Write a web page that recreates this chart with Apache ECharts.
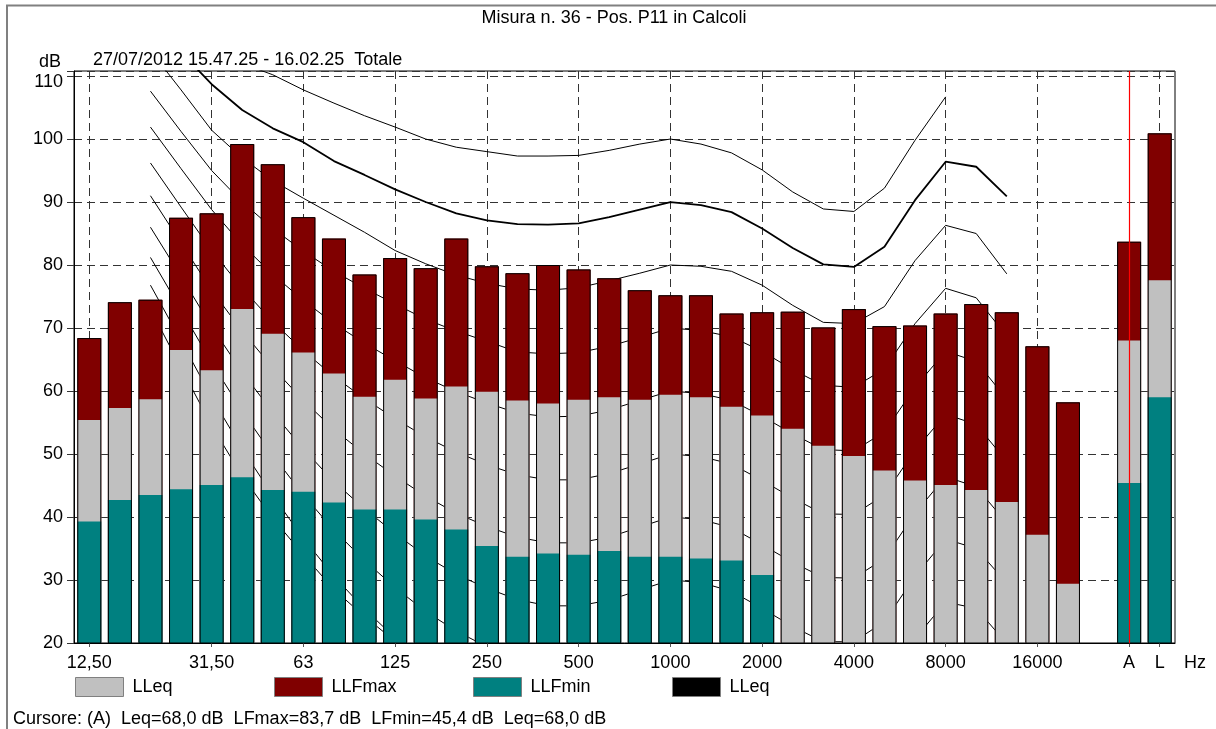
<!DOCTYPE html>
<html><head><meta charset="utf-8">
<script src="https://cdn.jsdelivr.net/npm/echarts@6/dist/echarts.min.js"></script>
<style>html,body{margin:0;padding:0;background:#fff}#c{width:1216px;height:729px}</style>
</head><body><div id="c"></div>
<script>
// Bands (1/3 octave) + gap + A + L
const categories = ["12,50","16","20","25","31,50","40","50","63","80","100","125","160","200","250","315","400","500","630","800","1000","1250","1600","2000","2500","3150","4000","5000","6300","8000","10000","12500","16000","20000","","A","L"];
const labeledBands = ["12,50","31,50","63","125","250","500","1000","2000","4000","8000","16000","A","L"];

const LLFmax = [68.4,74.1,74.5,87.5,88.2,99.2,96.0,87.6,84.2,78.5,81.1,79.5,84.2,79.8,78.7,80.0,79.3,77.9,76.0,75.2,75.2,72.3,72.5,72.6,70.1,73.0,70.3,70.4,72.3,73.8,72.5,67.1,58.2,null,83.7,100.9];
const LLeq   = [55.4,57.3,58.7,66.5,63.3,73.0,69.1,66.1,62.8,59.1,61.8,58.8,60.7,59.9,58.5,58.0,58.6,59.0,58.6,59.4,59.0,57.5,56.1,54.0,51.3,49.7,47.4,45.8,45.1,44.3,42.4,37.2,29.4,null,68.0,77.6];
const LLFmin = [39.3,42.7,43.5,44.4,45.1,46.3,44.3,44.0,42.3,41.2,41.2,39.6,38.0,35.4,33.7,34.2,34.0,34.6,33.7,33.7,33.4,33.1,30.8,null,null,null,null,null,null,null,null,null,null,null,45.4,59.0];
const cursorBand = "A";

// Equal-loudness style reference curves (20 Hz .. 12500 Hz)
const curveBands = ["20","25","31,50","40","50","63","80","100","125","160","200","250","315","400","500","630","800","1000","1250","1600","2000","2500","3150","4000","5000","6300","8000","10000","12500"];
const curve100 = [124.0,120.5,116.5,112.0,110.2,107.8,105.7,103.7,101.9,100.0,98.7,98.0,97.3,97.3,97.4,98.2,99.2,100.0,99.2,97.8,95.1,91.6,88.9,88.5,92.2,99.8,106.7,null,null];
const curve90  = [119.0,113.8,108.7,104.6,101.7,99.5,96.5,94.3,92.0,90.0,88.2,87.1,86.5,86.4,86.6,87.6,88.8,90.0,89.5,88.4,85.8,82.7,80.1,79.7,82.9,90.3,96.4,95.6,90.9];
const curve80  = [114.0,107.8,101.4,97.0,93.4,90.6,87.9,85.2,82.3,80.2,78.4,77.1,76.2,76.0,76.4,77.5,78.7,80.0,79.8,79.0,76.8,73.6,70.9,70.7,73.4,80.7,86.3,85.0,78.6];
const curve70  = [107.6,101.2,95.0,90.0,85.8,82.2,79.0,76.3,73.8,71.4,69.5,67.9,66.2,65.9,66.1,67.1,68.5,70.0,69.6,68.6,66.3,63.4,60.9,60.6,63.5,70.7,76.3,74.8,68.7];
const curve60  = [101.9,95.3,88.8,83.2,78.5,74.4,70.7,67.6,64.8,62.1,59.9,58.1,56.5,55.9,56.0,57.0,58.5,60.0,59.6,58.5,56.0,53.2,50.7,50.5,53.5,60.6,66.3,64.7,58.7];
const curve50  = [96.2,89.2,82.3,76.3,71.0,66.4,62.3,58.8,55.6,52.7,50.3,48.3,46.7,45.9,45.9,46.9,48.4,50.0,49.6,48.4,45.8,43.0,40.5,40.4,43.5,50.6,56.3,54.7,48.8];
const curve40  = [91.0,83.5,76.0,69.5,63.7,58.5,53.9,50.0,46.5,43.3,40.6,38.5,36.8,35.9,35.9,36.8,38.4,40.0,39.6,38.3,35.6,32.8,30.4,30.3,33.4,40.6,46.4,44.8,39.0];
const curve30  = [86.0,78.2,70.2,63.0,56.6,50.8,45.6,41.3,37.4,33.8,30.9,28.7,26.9,25.9,25.9,26.8,28.4,30.0,29.6,28.2,25.5,22.6,20.2,20.2,23.4,30.6,36.5,35.0,29.5];
const curve20  = [81.2,72.9,64.5,56.8,49.8,43.5,37.9,33.1,28.8,25.0,21.9,19.4,17.4,16.0,15.9,16.7,18.3,20.0,19.6,18.1,15.4,12.5,10.0,10.1,13.4,20.7,26.5,25.5,19.9];
const curve10  = [76.8,68.0,59.0,50.8,43.4,36.6,30.6,25.4,20.8,16.7,13.3,10.7,8.5,6.8,5.8,6.7,8.3,10.0,9.6,8.0,5.3,2.4,-0.1,0.0,3.4,11.5,19.0,19.8,14.6];
const curve0   = [73.0,63.7,54.5,46.5,39.8,34.0,28.5,24.2,20.3,16.5,13.5,11.0,8.8,7.0,6.0,5.0,4.4,4.2,3.7,2.6,1.0,-1.2,-3.6,-3.9,-1.1,6.6,15.3,16.4,11.6];

const curves = [curve100, curve90, curve80, curve70, curve60, curve50, curve40, curve30, curve20, curve10, curve0];
const FONT = '"Liberation Sans", Arial, sans-serif';
const isLabeled = (i) => labeledBands.indexOf(categories[i]) >= 0;

const chart = echarts.init(document.getElementById('c'), null, {renderer: 'canvas'});

const lineSeries = curves.map((c, k) => ({
  type: 'line', name: 'curve' + k, z: 1, silent: true, symbol: 'none',
  data: curveBands.map((b, i) => [b, c[i]]),
  lineStyle: {color: '#000', width: k === 1 ? 1.8 : 1},
  clip: true, animation: false
}));

const legendBase = {
  orient: 'horizontal', top: 677, itemWidth: 48, itemHeight: 19, icon: 'rect', padding: 0,
  selectedMode: false,
  itemStyle: {borderColor: '#808080', borderWidth: 1},
  textStyle: {fontSize: 18, fontFamily: FONT, color: '#000', padding: [0, 0, 0, 4]}
};

const option = {
  animation: false,
  backgroundColor: '#fff',
  grid: {left: 74, right: 41, top: 71, bottom: 86, show: true, borderColor: '#000', borderWidth: 1},
  xAxis: {
    type: 'category', data: categories, boundaryGap: true,
    axisLine: {show: true, lineStyle: {color: '#000', width: 1}},
    axisTick: {show: true, alignWithLabel: true, interval: (i) => isLabeled(i), length: 4, lineStyle: {color: '#555'}},
    axisLabel: {interval: (i) => isLabeled(i), fontSize: 18, fontFamily: FONT, color: '#000', margin: 11},
    splitLine: {show: true, alignWithLabel: true, interval: (i) => isLabeled(i), lineStyle: {color: '#333', type: [8, 5], width: 1}}
  },
  yAxis: {
    type: 'value', min: 20, max: 110.8, interval: 10,
    axisLine: {show: true, lineStyle: {color: '#000'}},
    axisTick: {show: true, length: 7, lineStyle: {color: '#333'}},
    axisLabel: {fontSize: 18, fontFamily: FONT, color: '#000', margin: 11,
      formatter: (v) => (Math.abs(v % 10) < 1e-6 ? (v === 110 ? '{top|110}' : String(v)) : ''),
      rich: {top: {fontSize: 18, fontFamily: FONT, color: '#000', padding: [11, 0, 0, 0]}}},
    splitLine: {show: true, lineStyle: {color: '#333', type: [8, 5], width: 1}}
  },
  legend: [
    Object.assign({}, legendBase, {left: 75, data: ['LLeq']}),
    Object.assign({}, legendBase, {left: 274, data: ['LLFmax']}),
    Object.assign({}, legendBase, {left: 473, data: ['LLFmin']}),
    Object.assign({}, legendBase, {left: 672, data: ['LLeq_nero'], formatter: () => 'LLeq'})
  ],
  graphic: [
    {type: 'line', shape: {x1: 7, y1: 5, x2: 7, y2: 729}, style: {stroke: '#808080', lineWidth: 2}, silent: true},
    {type: 'line', shape: {x1: 6, y1: 5.5, x2: 1216, y2: 5.5}, style: {stroke: '#808080', lineWidth: 2}, silent: true},
    {type: 'text', x: 614, y: 18, style: {text: 'Misura n. 36 - Pos. P11 in Calcoli', font: '18px ' + FONT, fill: '#000', textAlign: 'center', textVerticalAlign: 'middle'}},
    {type: 'text', x: 93, y: 60, style: {text: '27/07/2012 15.47.25 - 16.02.25  Totale', font: '18px ' + FONT, fill: '#000', textAlign: 'left', textVerticalAlign: 'middle'}},
    {type: 'text', x: 39, y: 62, style: {text: 'dB', font: '18px ' + FONT, fill: '#000', textAlign: 'left', textVerticalAlign: 'middle'}},
    {type: 'text', x: 1184, y: 663, style: {text: 'Hz', font: '18px ' + FONT, fill: '#000', textAlign: 'left', textVerticalAlign: 'middle'}},
    {type: 'text', x: 13, y: 719, style: {text: 'Cursore: (A)  Leq=68,0 dB  LFmax=83,7 dB  LFmin=45,4 dB  Leq=68,0 dB', font: '18px ' + FONT, fill: '#000', textAlign: 'left', textVerticalAlign: 'middle'}}
  ],
  series: lineSeries.concat([
    {type: 'bar', name: 'LLFmax', data: LLFmax, barWidth: 24, barGap: '-100%', itemStyle: {color: '#800000'}, silent: true},
    {type: 'bar', name: 'LLeq', data: LLeq, barWidth: 24, barGap: '-100%', itemStyle: {color: '#c0c0c0'}, silent: true},
    {type: 'bar', name: 'LLFmin', data: LLFmin, barWidth: 24, barGap: '-100%', itemStyle: {color: '#008080'}, silent: true},
    {type: 'bar', name: 'outline', data: LLFmax, barWidth: 24, barGap: '-100%', silent: true,
      itemStyle: {color: 'rgba(0,0,0,0)', borderColor: '#000', borderWidth: 1}},
    {type: 'bar', name: 'LLeq_nero', data: [], barWidth: 24, barGap: '-100%', itemStyle: {color: '#000'}},
    {type: 'line', name: 'cursore', data: [], color: '#ff0000', z: 10, silent: true,
      itemStyle: {color: '#ff0000'}, lineStyle: {color: '#ff0000'},
      markLine: {silent: true, symbol: ['none', 'none'], label: {show: false}, animation: false, z: 10,
        emphasis: {disabled: true},
        lineStyle: {color: '#ff0000', width: 1.2, type: 'solid', opacity: 1},
        data: [{xAxis: cursorBand, lineStyle: {color: '#ff0000', width: 1.2, type: 'solid'}}]}}
  ])
};
chart.setOption(option);
</script>
</body></html>
